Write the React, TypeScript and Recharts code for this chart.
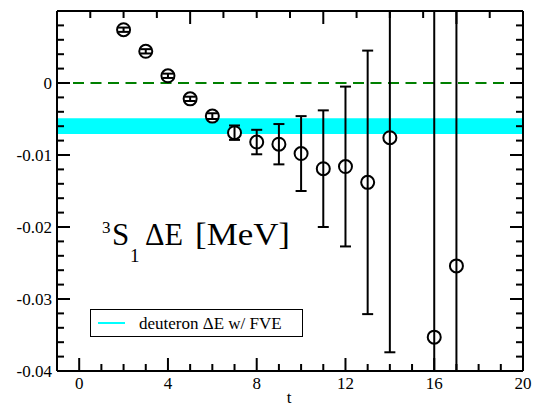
import React from 'react';
import { ComposedChart, Scatter, ErrorBar, XAxis, YAxis, ReferenceArea, ReferenceLine } from 'recharts';

// time slices (t = 15 is missing in the plot)
const tValues = [2, 3, 4, 5, 6, 7, 8, 9, 10, 11, 12, 13, 14, 16, 17];
const deltaE = [0.0074, 0.0044, 0.001, -0.0022, -0.0046, -0.0069, -0.0082, -0.0085, -0.0098, -0.0119, -0.0116, -0.0138, -0.0076, -0.0353, -0.0254];
const deltaEErr = [0.0003, 0.0003, 0.0003, 0.0003, 0.0004, 0.001, 0.0017, 0.0028, 0.0052, 0.0081, 0.0111, 0.0183, 0.0298, 0.05, 0.04];

// deuteron band with finite volume effects
const bandLow = -0.0071;
const bandHigh = -0.0049;

const xTicks = [0, 1, 2, 3, 4, 5, 6, 7, 8, 9, 10, 11, 12, 13, 14, 15, 16, 17, 18, 19, 20];
const yTicks = [
  -0.04, -0.038, -0.036, -0.034, -0.032, -0.03, -0.028, -0.026, -0.024, -0.022,
  -0.02, -0.018, -0.016, -0.014, -0.012, -0.01, -0.008, -0.006, -0.004, -0.002,
  0, 0.002, 0.004, 0.006, 0.008, 0.01,
];

const data = tValues.map((t, i) => ({ t, e: deltaE[i], err: deltaEErr[i] }));

const serif = { fontFamily: '"Liberation Serif", "Times New Roman", Times, serif' };
const axisLine = { stroke: '#000', strokeWidth: 2 };

const isMajorX = (v: number) => v % 4 === 0;
const isMajorY = (v: number) => Math.abs(v * 100 - Math.round(v * 100)) < 1e-6;

const bottomTick = (p: any) => {
  const x = Number(p.x);
  const y = Number(p.y);
  const major = isMajorX(p.payload.value);
  return (
    <g>
      <path d={`M${x},${y}V${y - (major ? 13 : 7)}`} stroke="#000" strokeWidth={2} fill="none" />
      {major && (
        <text x={x} y={y + 18} textAnchor="middle" style={serif} fontSize={17} fill="#000">
          {p.payload.value}
        </text>
      )}
    </g>
  );
};

const topTick = (p: any) => {
  const x = Number(p.x);
  const y = Number(p.y);
  const major = isMajorX(p.payload.value);
  return <path d={`M${x},${y}V${y + (major ? 13 : 7)}`} stroke="#000" strokeWidth={2} fill="none" />;
};

const leftTick = (p: any) => {
  const x = Number(p.x);
  const y = Number(p.y);
  const v = p.payload.value;
  const major = isMajorY(v);
  return (
    <g>
      <path d={`M${x},${y}H${x + (major ? 13 : 7)}`} stroke="#000" strokeWidth={2} fill="none" />
      {major && v < 0.005 && (
        <text x={x - 5} y={y} dy="0.35em" textAnchor="end" style={serif} fontSize={17} fill="#000">
          {String(parseFloat(v.toFixed(4)))}
        </text>
      )}
    </g>
  );
};

const rightTick = (p: any) => {
  const x = Number(p.x);
  const y = Number(p.y);
  const major = isMajorY(p.payload.value);
  return <path d={`M${x},${y}H${x - (major ? 13 : 7)}`} stroke="#000" strokeWidth={2} fill="none" />;
};

const WhiteDot = ({ cx, cy }: any) => <circle cx={cx} cy={cy} r={6.5} fill="#fff" stroke="none" />;
const OpenDot = ({ cx, cy }: any) => <circle cx={cx} cy={cy} r={6.5} fill="none" stroke="#000" strokeWidth={2} />;

export default function App() {
  return (
    <div style={{ position: 'absolute', left: 0, top: 0, width: 536, height: 408, background: '#fff' }}>
      <svg width={0} height={0} style={{ position: 'absolute' }}>
        <defs>
          <clipPath id="plot-area-clip">
            <rect x={57} y={11} width={466} height={360} />
          </clipPath>
        </defs>
      </svg>
      <ComposedChart width={536} height={408} data={data} margin={{ top: 10, right: 12, bottom: 0, left: 0 }}>
        <XAxis
          dataKey="t"
          type="number"
          domain={[-1, 20]}
          ticks={xTicks}
          interval={0}
          allowDataOverflow
          height={37}
          tickSize={0}
          tickMargin={0}
          tickLine={false}
          axisLine={axisLine}
          tick={bottomTick}
        />
        <XAxis
          xAxisId="top"
          orientation="top"
          type="number"
          domain={[-1, 20]}
          ticks={xTicks}
          interval={0}
          allowDataOverflow
          height={1}
          tickSize={0}
          tickMargin={0}
          tickLine={false}
          axisLine={axisLine}
          tick={topTick}
        />
        <YAxis
          type="number"
          domain={[-0.04, 0.01]}
          ticks={yTicks}
          interval={0}
          allowDataOverflow
          width={57}
          tickSize={0}
          tickMargin={0}
          tickLine={false}
          axisLine={axisLine}
          tick={leftTick}
        />
        <YAxis
          yAxisId="right"
          orientation="right"
          type="number"
          domain={[-0.04, 0.01]}
          ticks={yTicks}
          interval={0}
          allowDataOverflow
          width={1}
          tickSize={0}
          tickMargin={0}
          tickLine={false}
          axisLine={axisLine}
          tick={rightTick}
        />
        <ReferenceArea y1={bandLow} y2={bandHigh} fill="#00ffff" fillOpacity={1} stroke="none" zIndex={-10} />
        <ReferenceLine y={0} stroke="#008000" strokeWidth={2} strokeDasharray="11 6.5" strokeDashoffset={1.5} zIndex={-5} />
        <Scatter dataKey="e" isAnimationActive={false} shape={<WhiteDot />} zIndex={0} />
        <Scatter dataKey="e" isAnimationActive={false} shape={<OpenDot />}>
          <ErrorBar
            dataKey="err"
            direction="y"
            width={5.5}
            stroke="#000"
            strokeWidth={2}
            clipPath="url(#plot-area-clip)"
          />
        </Scatter>
      </ComposedChart>
      <svg width={536} height={408} style={{ position: 'absolute', left: 0, top: 0, pointerEvents: 'none' }}>
        <g style={serif} fill="#000">
          <text x={102} y={233} fontSize={17}>3</text>
          <text x={112} y={245} fontSize={31}>S</text>
          <text x={130} y={262} fontSize={19}>1</text>
          <text x={145} y={245} fontSize={31} textLength={38} lengthAdjust="spacingAndGlyphs">ΔE</text>
          <text x={195} y={245} fontSize={31} textLength={95} lengthAdjust="spacingAndGlyphs">[MeV]</text>
          <text x={289} y={403} fontSize={17} textAnchor="middle">t</text>
        </g>
        <rect x={90.5} y={309.5} width={212} height={27} fill="#fff" stroke="#000" strokeWidth={1} />
        <line x1={98} x2={125} y1={323} y2={323} stroke="#00ffff" strokeWidth={2} />
        <text x={139} y={329} style={serif} fontSize={17} fill="#000">deuteron ΔE w/ FVE</text>
      </svg>
    </div>
  );
}
